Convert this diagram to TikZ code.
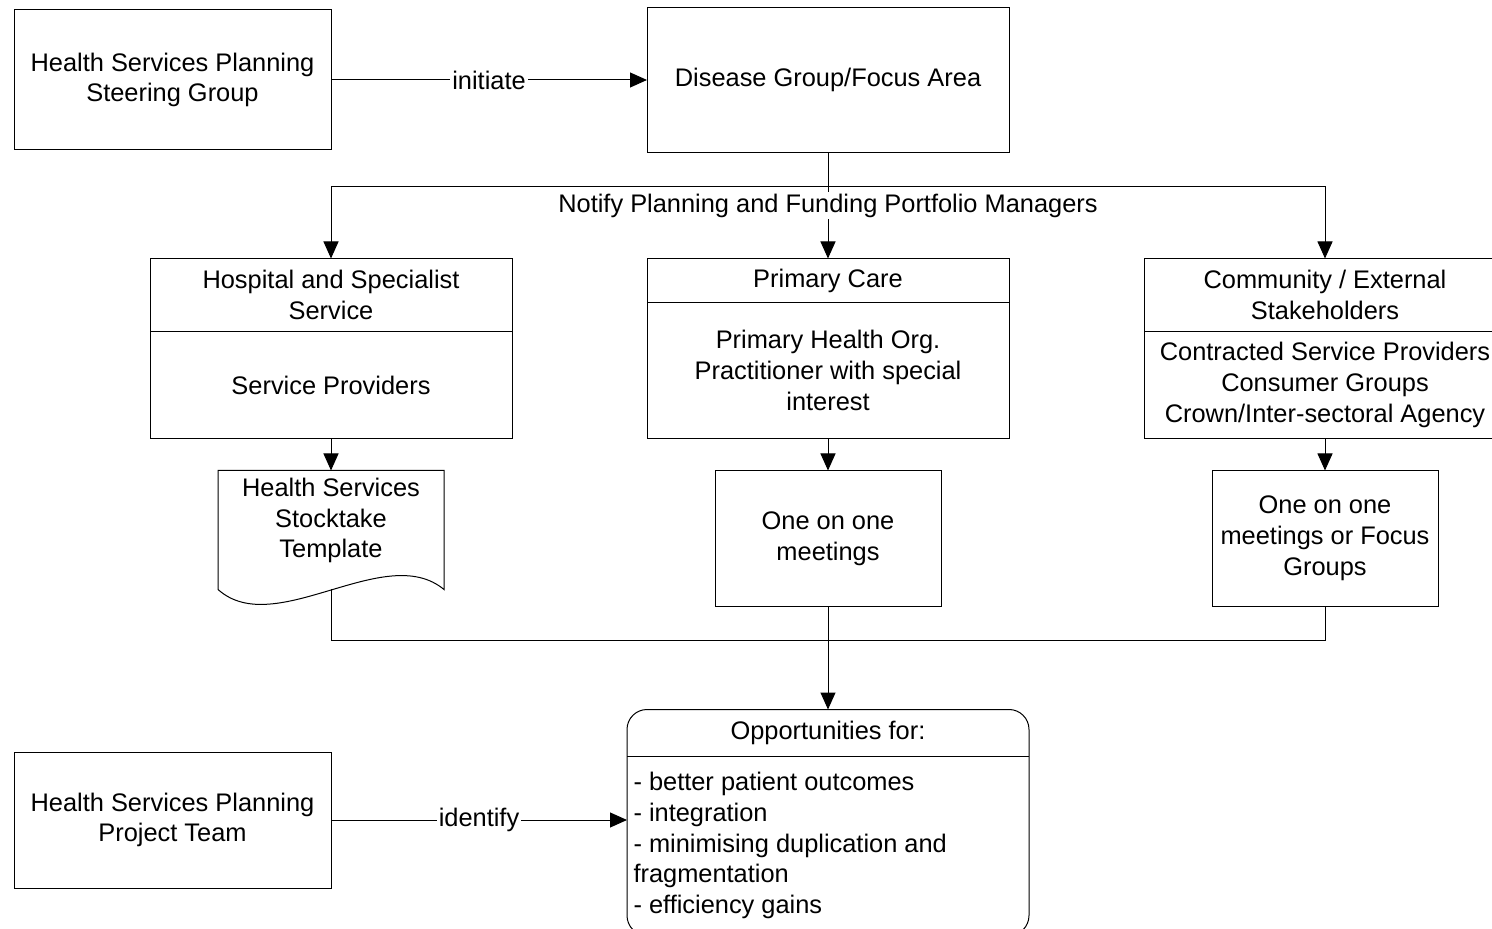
\documentclass[tikz,border=0pt]{standalone}
\usepackage{fontspec}
\setmainfont{Liberation Sans}
\usetikzlibrary{arrows.meta}
\usetikzlibrary{positioning}
\usetikzlibrary{calc}

\begin{document}
\begin{tikzpicture}[
          ->, >={Triangle[length=8.5pt,width=7.5pt]}, line width=0.5pt,
          node distance=16pt,
          every node/.style={font=\fontsize{12.7}{15.4}\selectfont}
        ]

          % styles
          \tikzstyle{box}=[rectangle, draw, outer sep=0pt, inner sep=2pt, align=center]
          \tikzstyle{wide}=[box, minimum width=181pt]
          \tikzstyle{side}=[box, minimum width=158.5pt]
          \tikzstyle{small}=[box, minimum width=113pt, minimum height=68pt]
          \tikzstyle{lbl}=[fill=white, inner sep=1pt]

          % page
          \useasboundingbox (0pt,0pt) rectangle (746pt,-464.5pt);
          \clip (0pt,0pt) rectangle (746pt,-464.5pt);

          % top row
          \node[side, minimum height=70pt] (steer) at (86.25pt,-40pt) {Health Services Planning\\Steering Group};
          \node[wide, minimum height=72.5pt, right=158pt of steer] (disease) {Disease Group/Focus Area};

          % portfolio boxes
          \node[wide, minimum height=22pt, below=53pt of disease] (primh) {Primary Care};
          \node[wide, minimum height=68pt, below=0pt of primh] (primb) {Primary Health Org.\\Practitioner with special\\interest};
          \node[wide, minimum height=36.5pt, left=67.5pt of primh.north west, anchor=north east] (hosph) {Hospital and Specialist\\Service};
          \node[wide, minimum height=53.5pt, below=0pt of hosph] (hospb) {Service Providers};
          \node[wide, minimum height=36.5pt, right=67.5pt of primh.north east, anchor=north west] (commh) {Community / External\\Stakeholders};
          \node[wide, minimum height=53.5pt, below=0pt of commh] (commb) {Contracted Service Providers\\Consumer Groups\\Crown/Inter-sectoral Agency};

          % consultation
          \node[box, draw=none, minimum width=113pt, minimum height=50pt, below=16pt of hospb] (doc) {Health Services\\Stocktake\\Template};
          \draw[-] (doc.north west) -- ++(0pt,-59.5pt)
            .. controls +(28.5pt,-25.5pt) and +(-29.5pt,24.5pt) .. ($(doc.north east)+(0pt,-59.5pt)$)
            -- (doc.north east) -- cycle;
          \coordinate (docend) at ($(doc.north)+(0pt,-59.5pt)$);
          \node[small, below=16pt of primb] (meet1) {One on one\\meetings};
          \node[small, below=16pt of commb] (meet2) {One on one\\meetings or Focus\\Groups};

          % outcome
          \node[box, rounded corners=10pt, minimum width=201pt, minimum height=113pt, below=51.5pt of meet1] (opp) {};
          \node[box, draw=none, minimum width=201pt, minimum height=23.5pt, anchor=north] (opph) at (opp.north) {Opportunities for:};
          \draw[-] (opph.south west) -- (opph.south east);
          \node[align=left, inner xsep=3pt, inner ysep=0pt, anchor=west] (oppb) at ($(opph.south west)+(0pt,-44.5pt)$)
            {- better patient outcomes\\- integration\\- minimising duplication and\\fragmentation\\- efficiency gains};
          \node[side, minimum height=68pt] (team) at (86.25pt,-410pt) {Health Services Planning\\Project Team};

          % edges
          \draw (steer) -- node[lbl] {initiate} (disease);
          \coordinate[below=17pt of disease.south] (split);
          \draw[-] (disease) -- (split);
          \draw (split) -| (hosph.north);
          \draw (split) -- (primh.north);
          \draw (split) -| (commh.north);
          \node[lbl] (notify) at ($(split)+(0pt,-9.5pt)$) {Notify Planning and Funding Portfolio Managers};

          \draw (hospb) -- (doc);
          \draw (primb) -- (meet1);
          \draw (commb) -- (meet2);

          \coordinate[below=17pt of meet1.south] (merge);
          \draw[-] (docend) |- (merge) -| (meet2.south);
          \draw (meet1) -- (opp);
          \draw (team.east) -- node[lbl] {identify} (team.east -| opp.west);

        \end{tikzpicture}
\end{document}
